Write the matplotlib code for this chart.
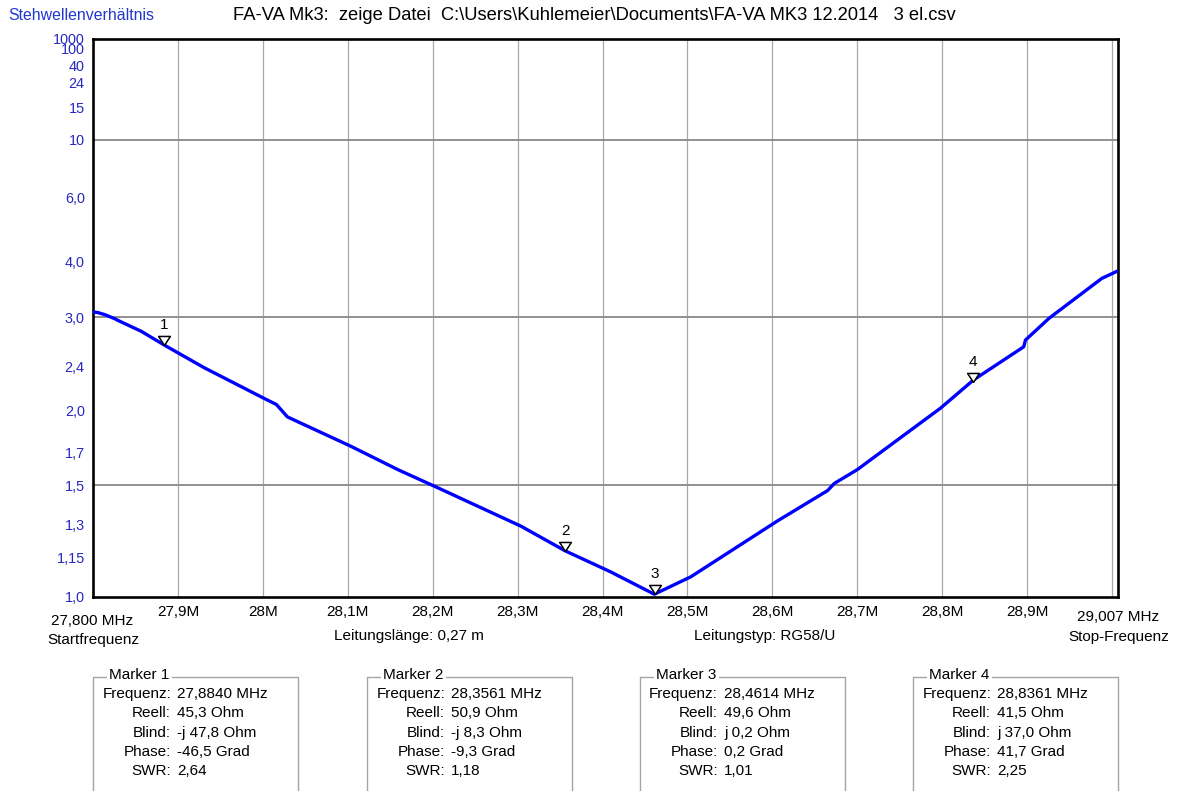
import numpy as np
import matplotlib
matplotlib.use("Agg")
import matplotlib.pyplot as plt
from matplotlib.lines import Line2D

plt.rcParams['font.family'] = ['Liberation Sans', 'DejaVu Sans']

# sweep data (MHz, SWR)
freq_mhz = [27.800, 27.806, 27.814, 27.826, 27.829, 27.857, 27.884, 27.931,
            28.002, 28.016, 28.029, 28.103, 28.159, 28.204, 28.304, 28.356,
            28.409, 28.461, 28.504, 28.606, 28.665, 28.673, 28.700, 28.747,
            28.798, 28.837, 28.896, 28.898, 28.926, 28.988, 29.007]
swr = [3.08, 3.07, 3.04, 2.98, 2.96, 2.81, 2.64, 2.39,
       2.10, 2.05, 1.95, 1.74, 1.59, 1.49, 1.29, 1.18,
       1.095, 1.01, 1.075, 1.315, 1.47, 1.51, 1.59, 1.78,
       2.02, 2.27, 2.62, 2.70, 2.99, 3.65, 3.80]

f_start = 27.800
f_stop = 29.007

y_ticks = [1.0, 1.15, 1.3, 1.5, 1.7, 2.0, 2.4, 3.0, 4.0, 6.0, 10, 15, 24, 40, 100, 1000]
y_labels = ["1,0", "1,15", "1,3", "1,5", "1,7", "2,0", "2,4", "3,0", "4,0", "6,0",
            "10", "15", "24", "40", "100", "1000"]
y_grid = [1.5, 3.0, 10]

x_ticks = [27.9, 28.0, 28.1, 28.2, 28.3, 28.4, 28.5, 28.6, 28.7, 28.8, 28.9]
x_labels = ["27,9M", "28M", "28,1M", "28,2M", "28,3M", "28,4M", "28,5M",
            "28,6M", "28,7M", "28,8M", "28,9M"]
x_grid = [27.9, 28.0, 28.1, 28.2, 28.3, 28.4, 28.5, 28.6, 28.7, 28.8, 28.9, 29.0]

# markers
mk_freq = [27.8840, 28.3561, 28.4614, 28.8361]
mk_reell = [45.3, 50.9, 49.6, 41.5]
mk_blind = [-47.8, -8.3, 0.2, 37.0]
mk_phase = [-46.5, -9.3, 0.2, 41.7]
mk_swr = [2.64, 1.18, 1.01, 2.25]

W, H = 1180, 791
FS = 11


def px(x, y):
    return x / W, 1 - y / H


def de(v, n):
    return f"{v:.{n}f}".replace('.', ',')


def gamma(s):
    s = np.asarray(s, dtype=float)
    return (s - 1) / (s + 1)


def gamma_inv(g):
    g = np.clip(np.asarray(g, dtype=float), -0.99, 0.99999)
    return (1 + g) / (1 - g)


fig = plt.figure(figsize=(11.8, 7.91), dpi=100)
l, b = px(93, 597)
r, t = px(1118, 39)
ax = fig.add_axes([l, b, r - l, t - b])

ax.set_yscale('function', functions=(gamma, gamma_inv))
ax.set_ylim(1.0, 1000)
ax.set_xlim(f_start, f_stop)

for xg in x_grid:
    ax.axvline(xg, color='#a8a8a8', lw=0.9, zorder=1)
for yg in y_grid:
    ax.axhline(yg, color='#909090', lw=1.4, zorder=1)

ax.plot(freq_mhz, swr, color='#0000ff', lw=2.4, zorder=3, solid_joinstyle='round')

tri = [(0, 0), (-0.65, 1), (0.65, 1), (0, 0)]
for i, (f, s) in enumerate(zip(mk_freq, mk_swr)):
    ax.plot([f], [s], marker=tri, markersize=13, markerfacecolor='white',
            markeredgecolor='black', markeredgewidth=1.1, linestyle='none', zorder=4,
            clip_on=False)
    ax.annotate(str(i + 1), (f, s), xytext=(0, 14.5), textcoords='offset points',
                ha='center', va='center', fontsize=FS, color='black', zorder=5)

ax.set_yticks(y_ticks)
ax.set_yticklabels(y_labels)
ax.set_xticks(x_ticks)
ax.set_xticklabels(x_labels)
ax.yaxis.set_minor_locator(matplotlib.ticker.NullLocator())
ax.tick_params(axis='y', length=0, pad=6, labelsize=10.4, labelcolor='#2828c0')
ax.tick_params(axis='x', length=0, pad=6, labelsize=FS, labelcolor='black')

for sp in ax.spines.values():
    sp.set_linewidth(1.9)
    sp.set_color('black')

# header
fig.text(*px(8, 16), "Stehwellenverhältnis", color='#2038d0', fontsize=11.4,
         ha='left', va='center')
fig.text(*px(233, 16),
         "FA-VA Mk3:  zeige Datei  C:\\Users\\Kuhlemeier\\Documents\\FA-VA MK3 12.2014   3 el.csv",
         color='black', fontsize=13.2, ha='left', va='center')

# footer under the axis
fig.text(*px(92, 621), de(f_start, 3) + " MHz", fontsize=FS, ha='center', va='center')
fig.text(*px(93, 640), "Startfrequenz", fontsize=FS, ha='center', va='center')
fig.text(*px(1118, 617), de(f_stop, 3) + " MHz", fontsize=FS, ha='center', va='center')
fig.text(*px(1119, 637), "Stop-Frequenz", fontsize=FS, ha='center', va='center')
fig.text(*px(334, 636), "Leitungslänge: 0,27 m", fontsize=FS, ha='left', va='center')
fig.text(*px(694, 636), "Leitungstyp: RG58/U", fontsize=FS, ha='left', va='center')

# marker boxes
box_left = [93, 367, 640, 913]
box_w = 205
box_top = 677
row_y = [694, 713, 733, 752, 771]
row_names = ["Frequenz:", "Reell:", "Blind:", "Phase:", "SWR:"]
gray = '#a4a4a4'

for i, bx in enumerate(box_left):
    xs = [bx, bx, bx + box_w, bx + box_w]
    ys = [H + 2, box_top, box_top, H + 2]
    fx = [px(x, 0)[0] for x in xs]
    fy = [px(0, y)[1] for y in ys]
    fig.add_artist(Line2D(fx, fy, color=gray, lw=1.0, transform=fig.transFigure))
    fig.text(*px(bx + 16, 675), f"Marker {i + 1}", fontsize=FS, ha='left', va='center',
             bbox=dict(facecolor='white', edgecolor='none', pad=1.5))
    blind = ("-j " if mk_blind[i] < 0 else "j ") + de(abs(mk_blind[i]), 1) + " Ohm"
    values = [de(mk_freq[i], 4) + " MHz", de(mk_reell[i], 1) + " Ohm", blind,
              de(mk_phase[i], 1) + " Grad", de(mk_swr[i], 2)]
    for name, val, yy in zip(row_names, values, row_y):
        fig.text(*px(bx + 78, yy), name, fontsize=FS, ha='right', va='center')
        fig.text(*px(bx + 84, yy), val, fontsize=FS, ha='left', va='center')

fig.savefig("out.png", dpi=100, facecolor='white')
